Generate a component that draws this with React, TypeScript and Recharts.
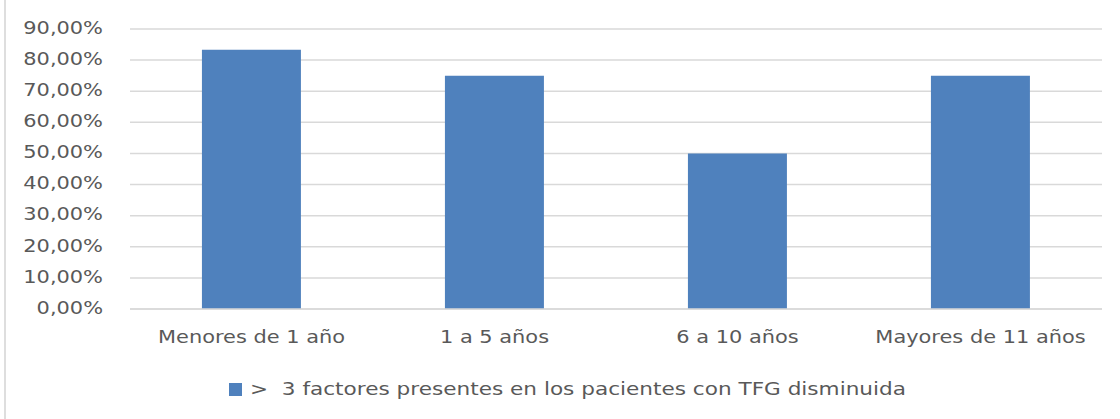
import React from 'react';
import { BarChart, Bar, XAxis, YAxis, CartesianGrid, Legend } from 'recharts';

const categories = ['Menores de 1 año', '1 a 5 años', '6 a 10 años', 'Mayores de 11 años'];
const values = [0.8333, 0.75, 0.5, 0.75];
const yTicks = [0, 0.1, 0.2, 0.3, 0.4, 0.5, 0.6, 0.7, 0.8, 0.9];
const seriesName = '>  3 factores presentes en los pacientes con TFG disminuida';

const data = categories.map((name, i) => ({ name, value: values[i] }));

const TEXT = '#595959';
const BAR = '#4F81BD';
const FONT = '"DejaVu Sans", Verdana, sans-serif';
const STRETCH = 1.23;

const pct = (v: number) => (v * 100).toFixed(2).replace('.', ',') + '%';

function YTick({ y, payload }: any) {
  return (
    <text
      transform={`translate(103,${y}) scale(${STRETCH},1)`}
      textAnchor="end"
      dy="0.28em"
      fill={TEXT}
      fontSize={17}
      fontFamily={FONT}
    >
      {pct(payload.value)}
    </text>
  );
}

function XTick({ x, y, payload }: any) {
  return (
    <text
      transform={`translate(${x},${y + 26}) scale(${STRETCH},1)`}
      textAnchor="middle"
      fill={TEXT}
      fontSize={17}
      fontFamily={FONT}
    >
      {payload.value}
    </text>
  );
}

function LegendContent() {
  return (
    <div style={{ display: 'flex', alignItems: 'center', marginLeft: 229, height: 30 }}>
      <span style={{ width: 13, height: 13, background: BAR, display: 'inline-block' }} />
      <span
        style={{
          display: 'inline-block',
          marginLeft: 8,
          color: TEXT,
          fontSize: 17,
          fontFamily: FONT,
          whiteSpace: 'pre',
          transform: 'scaleX(1.27)',
          transformOrigin: 'left center',
        }}
      >
        {seriesName}
      </span>
    </div>
  );
}

export default function App() {
  return (
    <div style={{ position: 'absolute', left: 0, top: 0, width: 1120, height: 419, background: '#fff' }}>
      <div style={{ position: 'absolute', left: 4, top: 0, width: 2, height: 419, background: '#DEDEDE' }} />
      <BarChart
        width={1120}
        height={419}
        data={data}
        margin={{ top: 29, right: 18, bottom: 15, left: 0 }}
        barCategoryGap="29.6%"
      >
        <CartesianGrid vertical={false} stroke="#D9D9D9" strokeWidth={1.5} />
        <XAxis
          dataKey="name"
          height={65}
          tickLine={false}
          axisLine={{ stroke: '#D9D9D9', strokeWidth: 1.5 }}
          tick={<XTick />}
          interval={0}
        />
        <YAxis
          width={130}
          domain={[0, 0.9]}
          ticks={yTicks}
          tickLine={false}
          axisLine={false}
          tick={<YTick />}
        />
        <Legend verticalAlign="bottom" content={<LegendContent />} />
        <Bar dataKey="value" name={seriesName} fill={BAR} isAnimationActive={false} />
      </BarChart>
    </div>
  );
}
